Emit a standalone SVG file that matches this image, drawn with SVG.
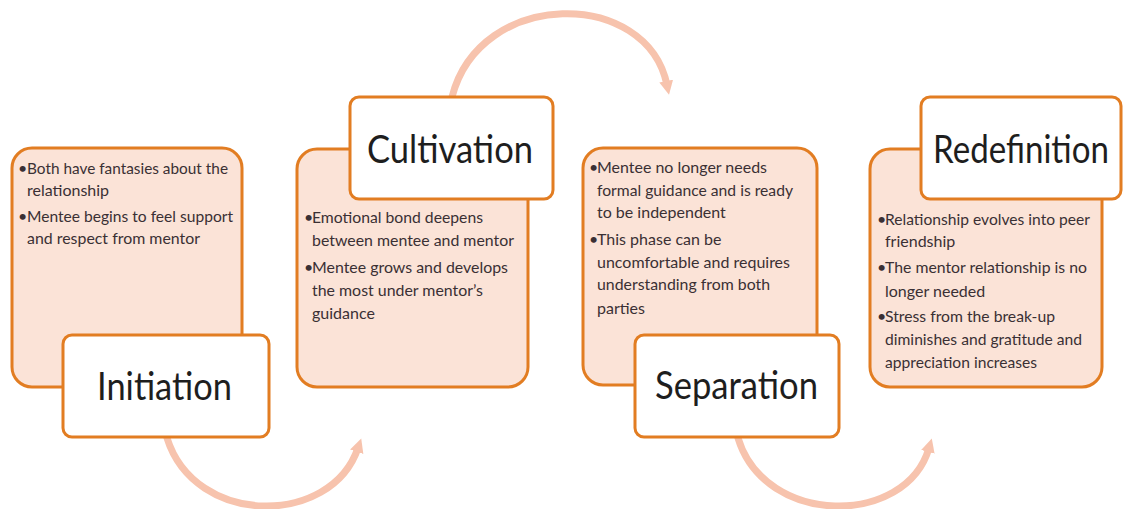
<svg xmlns="http://www.w3.org/2000/svg" width="1123" height="509" viewBox="0 0 1123 509">
  <style>
    .body { fill: #fbe3d7; stroke: #e27d22; stroke-width: 3; }
    .title { fill: #ffffff; stroke: #e27d22; stroke-width: 3; }
    .ttl { font-family: Lato, "Liberation Sans", sans-serif; font-size: 38px; fill: #1e1e1e; }
    .txt { font-family: Lato, "Liberation Sans", sans-serif; font-size: 16px; fill: #3a3034; }
    .flow { fill: none; stroke: #f7c3ad; stroke-width: 7; stroke-linecap: round; }
  </style>
  <defs>
    <marker id="head" markerUnits="userSpaceOnUse" markerWidth="18" markerHeight="18" refX="4" refY="8" orient="auto">
      <path d="M0,1 L14,8 L0,15 Z" fill="#f7c3ad"/>
    </marker>
  </defs>
  <rect width="1123" height="509" fill="#ffffff"/>

  <!-- curved flow arrows between stages -->
  <g id="connectors">
    <path class="flow" d="M167,438 C195,527 331,527 358,448" marker-end="url(#head)"/>
    <path class="flow" d="M452,97 C480,-12 647,-12 667,85" marker-end="url(#head)"/>
    <path class="flow" d="M738,438 C765,527 906,527 929,448" marker-end="url(#head)"/>
  </g>

  <!-- stage 1 -->
  <g id="initiation">
    <rect class="body" x="12" y="148" width="230" height="239" rx="20"/>
    <text class="txt" x="18" y="174">•</text>
    <text class="txt" x="27" y="174" textLength="201" lengthAdjust="spacingAndGlyphs">Both have fantasies about the</text>
    <text class="txt" x="27" y="196">relationship</text>
    <text class="txt" x="18" y="222">•</text>
    <text class="txt" x="27" y="222" textLength="206" lengthAdjust="spacingAndGlyphs">Mentee begins to feel support</text>
    <text class="txt" x="27" y="244" textLength="173" lengthAdjust="spacingAndGlyphs">and respect from  mentor</text>
    <rect class="title" x="63" y="335" width="206" height="102" rx="9"/>
    <text class="ttl" x="97" y="400" textLength="135" lengthAdjust="spacingAndGlyphs">Initiation</text>
  </g>

  <!-- stage 2 -->
  <g id="cultivation">
    <rect class="body" x="297" y="149" width="231" height="238" rx="20"/>
    <text class="txt" x="304" y="223">•</text>
    <text class="txt" x="312" y="223" textLength="171" lengthAdjust="spacingAndGlyphs">Emotional bond deepens</text>
    <text class="txt" x="312" y="246" textLength="202" lengthAdjust="spacingAndGlyphs">between mentee and mentor</text>
    <text class="txt" x="304" y="273">•</text>
    <text class="txt" x="312" y="273" textLength="196" lengthAdjust="spacingAndGlyphs">Mentee grows and develops</text>
    <text class="txt" x="312" y="296" textLength="171" lengthAdjust="spacingAndGlyphs">the most under mentor’s</text>
    <text class="txt" x="312" y="319">guidance</text>
    <rect class="title" x="350" y="97" width="203" height="102" rx="9"/>
    <text class="ttl" x="367" y="163" textLength="166" lengthAdjust="spacingAndGlyphs">Cultivation</text>
  </g>

  <!-- stage 3 -->
  <g id="separation">
    <rect class="body" x="583" y="148" width="234" height="237" rx="20"/>
    <text class="txt" x="589" y="173">•</text>
    <text class="txt" x="597" y="173" textLength="170" lengthAdjust="spacingAndGlyphs">Mentee no longer needs</text>
    <text class="txt" x="597" y="196" textLength="196" lengthAdjust="spacingAndGlyphs">formal guidance and is ready</text>
    <text class="txt" x="597" y="218">to be independent</text>
    <text class="txt" x="589" y="245">•</text>
    <text class="txt" x="597" y="245">This phase can be</text>
    <text class="txt" x="597" y="268" textLength="193" lengthAdjust="spacingAndGlyphs">uncomfortable and requires</text>
    <text class="txt" x="597" y="290" textLength="173" lengthAdjust="spacingAndGlyphs">understanding from both</text>
    <text class="txt" x="597" y="314">parties</text>
    <rect class="title" x="635" y="335" width="204" height="102" rx="9"/>
    <text class="ttl" x="655" y="399" textLength="163" lengthAdjust="spacingAndGlyphs">Separation</text>
  </g>

  <!-- stage 4 -->
  <g id="redefinition">
    <rect class="body" x="870" y="149" width="232" height="238" rx="20"/>
    <text class="txt" x="877" y="225">•</text>
    <text class="txt" x="885" y="225" textLength="205" lengthAdjust="spacingAndGlyphs">Relationship evolves into peer</text>
    <text class="txt" x="885" y="247">friendship</text>
    <text class="txt" x="877" y="273">•</text>
    <text class="txt" x="885" y="273" textLength="202" lengthAdjust="spacingAndGlyphs">The mentor relationship is no</text>
    <text class="txt" x="885" y="297">longer needed</text>
    <text class="txt" x="877" y="322">•</text>
    <text class="txt" x="885" y="322" textLength="170" lengthAdjust="spacingAndGlyphs">Stress from the break-up</text>
    <text class="txt" x="885" y="345" textLength="197" lengthAdjust="spacingAndGlyphs">diminishes and gratitude and</text>
    <text class="txt" x="885" y="368" textLength="152" lengthAdjust="spacingAndGlyphs">appreciation increases</text>
    <rect class="title" x="921" y="97" width="200" height="102" rx="9"/>
    <text class="ttl" x="933" y="163" textLength="176" lengthAdjust="spacingAndGlyphs">Redefinition</text>
  </g>
</svg>
